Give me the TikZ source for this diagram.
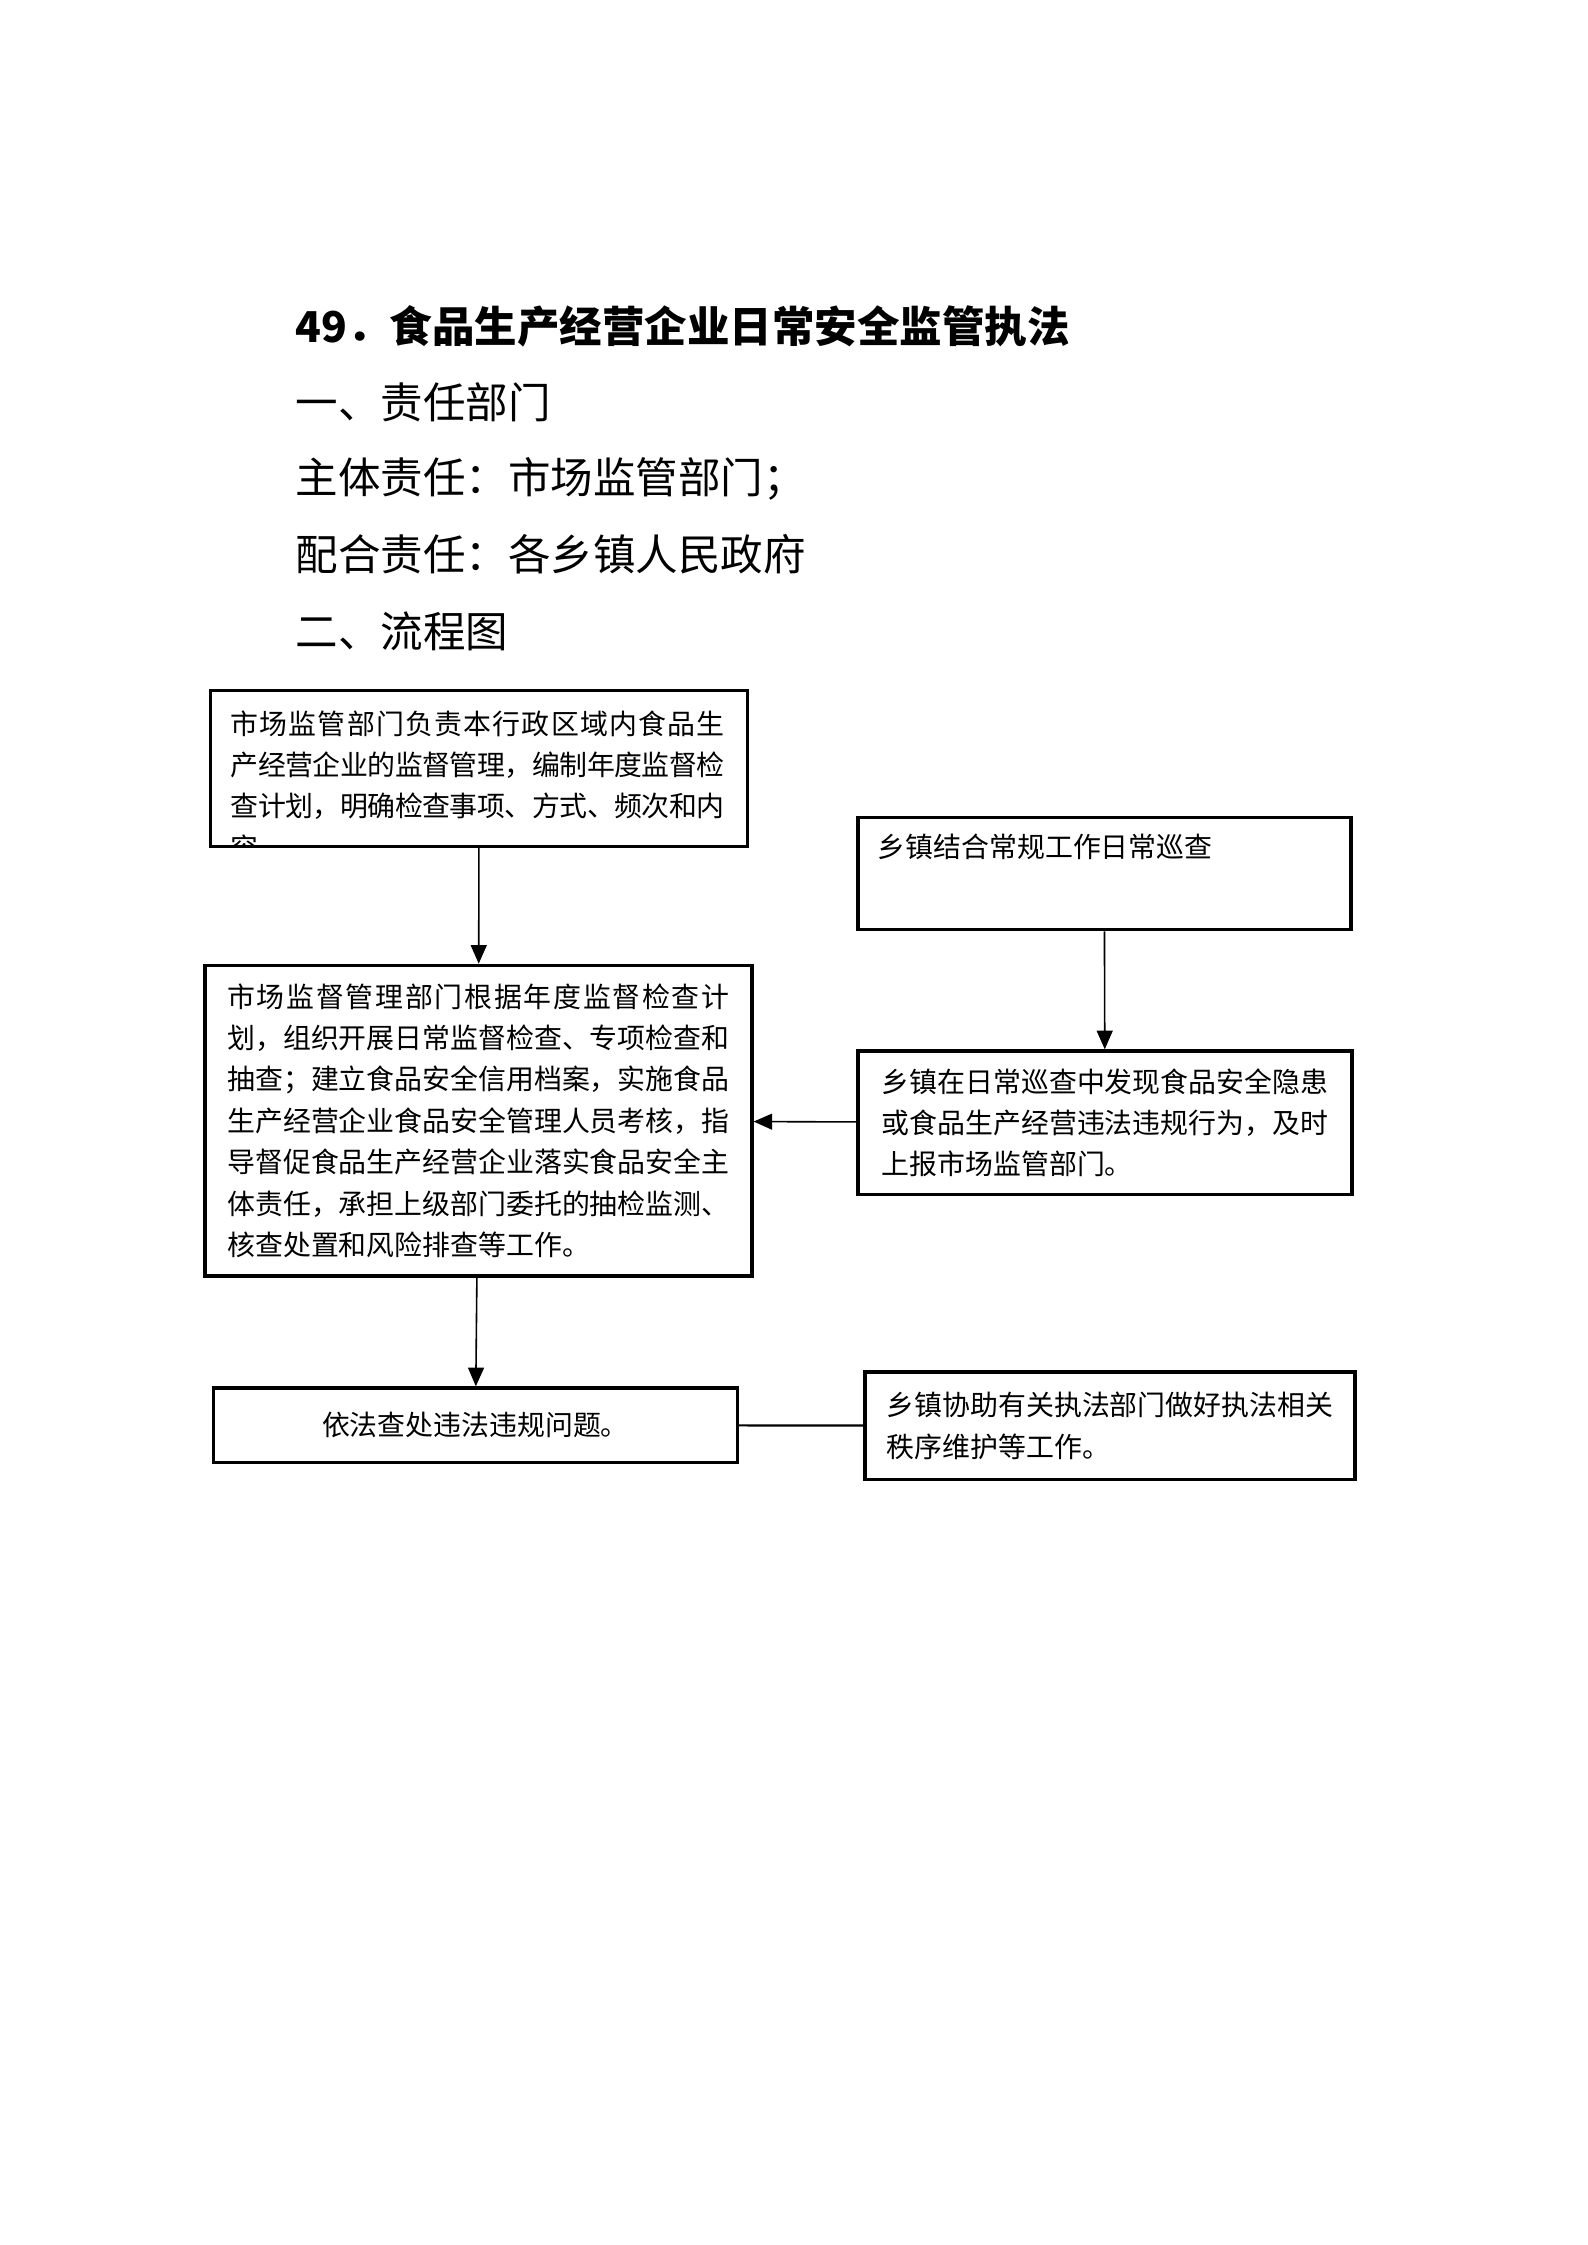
\documentclass[tikz,border=0pt]{standalone}
\usepackage{fontspec}
\setmainfont{Noto Sans CJK SC}
\usetikzlibrary{positioning,arrows.meta}
% glue between CJK characters, so a row can be set to a given width
\XeTeXinterchartokenstate=1
\newcount\cjkidx
\cjkidx="3000
\loop
  \XeTeXcharclass\cjkidx=1
  \advance\cjkidx by 1
\ifnum\cjkidx<"3040 \repeat
\cjkidx="4E00
\loop
  \XeTeXcharclass\cjkidx=1
  \advance\cjkidx by 1
\ifnum\cjkidx<"A000 \repeat
\cjkidx="FF00
\loop
  \XeTeXcharclass\cjkidx=1
  \advance\cjkidx by 1
\ifnum\cjkidx<"FF60 \repeat
\newcommand{\cjkglue}{\hskip0pt plus 1pt minus 0.4pt\relax}
\XeTeXinterchartoks 1 1 = {\cjkglue}
\newlength{\rowwd}
\newcommand{\fillrow}[1]{\makebox[\rowwd][s]{#1}}
\tikzset{
  every node/.style={inner sep=0pt},
  heading/.style={anchor=west, font=\fontsize{16}{16}\selectfont},
  row width/.code={\setlength{\rowwd}{#1}},
  stepbox/.style={
    rectangle, draw=black, line width=1.3pt,
    align=left, font=\fontsize{10.5}{15.6}\selectfont
  },
  boxtext/.style={anchor=north west, align=left, font=\fontsize{10.5}{15.6}\selectfont},
  flow/.style={-{Triangle[length=7pt,width=6pt]}, line width=0.6pt},
  link/.style={line width=0.8pt},
}
\begin{document}
\begin{tikzpicture}
  \useasboundingbox (0,0) rectangle (21,-29.7);
  % heading lines
  \node[heading, font=\fontsize{16}{16}\selectfont\bfseries] (title) at (3.903,-4.321) {49．食品生产经营企业日常安全监管执法};
  \node[heading] (dept) at (3.903,-5.325) {一、责任部门};
  \node[heading] (lead) at (3.903,-6.329) {主体责任：市场监管部门；};
  \node[heading] (assist) at (3.903,-7.333) {配合责任：各乡镇人民政府};
  \node[heading] (chart) at (3.903,-8.355) {二、流程图};
  % left column
  \node[stepbox, minimum width=7.104cm, minimum height=2.064cm] (plan) at (6.338,-10.166) {};
  \begin{scope}
    \clip ([shift={(0.03,-0.03)}]plan.north west) rectangle ([shift={(-0.03,0.03)}]plan.south east);
    \node[boxtext, row width=186pt] (plantext) at ([shift={(0.28,-0.28)}]plan.north west)
      {\fillrow{市场监管部门负责本行政区域内食品生}\\\fillrow{产经营企业的监督管理，编制年度监督检}\\\fillrow{查计划，明确检查事项、方式、频次和内}\\容。};
  \end{scope}
  \node[stepbox, row width=189pt, minimum width=7.236cm, minimum height=4.109cm] (inspect) at (6.329,-14.826)
    {\fillrow{市场监督管理部门根据年度监督检查计}\\划，组织开展日常监督检查、专项检查和\\抽查；建立食品安全信用档案，实施食品\\生产经营企业食品安全管理人员考核，指\\导督促食品生产经营企业落实食品安全主\\体责任，承担上级部门委托的抽检监测、\\核查处置和风险排查等工作。};
  \node[stepbox, align=center, minimum width=6.932cm, minimum height=0.984cm] (handle) at (6.290,-18.854)
    {依法查处违法违规问题。};
  % right column
  \node[stepbox, minimum width=6.522cm, minimum height=1.482cm] (patrol) at (14.609,-11.558) {};
  \node[boxtext] (patroltext) at ([shift={(0.28,-0.23)}]patrol.north west) {乡镇结合常规工作日常巡查};
  \node[stepbox, minimum width=6.535cm, minimum height=1.898cm] (report) at (14.618,-14.853)
    {乡镇在日常巡查中发现食品安全隐患\\或食品生产经营违法违规行为，及时\\上报市场监管部门。};
  \node[stepbox, minimum width=6.482cm, minimum height=1.423cm] (assistbox) at (14.684,-18.862)
    {乡镇协助有关执法部门做好执法相关\\秩序维护等工作。};
  % connectors
  \draw[flow] (plan) -- (inspect);
  \draw[flow] (inspect) -- (handle);
  \draw[flow] (patrol) -- (report);
  \draw[flow] (report) -- (inspect);
  \draw[link] (handle) -- (assistbox);
\end{tikzpicture}
\end{document}
